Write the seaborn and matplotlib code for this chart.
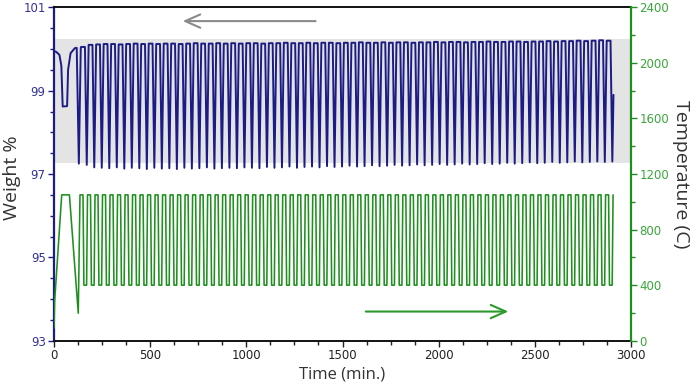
import numpy as np
import pandas as pd
import matplotlib
matplotlib.use("Agg")
import matplotlib.pyplot as plt
import seaborn as sns
from matplotlib.ticker import MultipleLocator

# ---- values ----
# temperature program before the cycling starts
start_time = [0, 3, 40, 80, 126, 135]
start_temp = [90, 280, 1050, 1050, 198, 1050]

# weight before the cycling starts (incl. the first dip)
start_wt_time = [0, 12, 28, 38, 45, 68, 73, 86, 108, 118, 129, 139]
start_wt = [99.95, 99.93, 99.86, 99.60, 98.62, 98.63, 99.50, 99.90, 100.02, 100.03, 97.25, 100.03]

first_cycle = 135       # min
cycle_period = 39.04    # min
n_cycles = 71
temp_high = 1050
temp_low = 400

weight_max = [
    100.05, 100.10, 100.11, 100.12, 100.12, 100.11, 100.12, 100.13, 100.12, 100.13,
    100.12, 100.13, 100.13, 100.12, 100.13, 100.14, 100.13, 100.13, 100.14, 100.13,
    100.14, 100.13, 100.14, 100.14, 100.13, 100.14, 100.14, 100.15, 100.14, 100.14,
    100.15, 100.14, 100.15, 100.15, 100.14, 100.15, 100.15, 100.16, 100.15, 100.15,
    100.16, 100.15, 100.16, 100.16, 100.15, 100.16, 100.16, 100.17, 100.16, 100.17,
    100.17, 100.16, 100.17, 100.17, 100.18, 100.17, 100.17, 100.18, 100.18, 100.17,
    100.18, 100.18, 100.19, 100.18, 100.19, 100.19, 100.20, 100.19, 100.20, 100.21,
    100.20]
weight_min = [
    97.22, 97.16, 97.15, 97.14, 97.16, 97.13, 97.15, 97.14, 97.12, 97.15,
    97.13, 97.14, 97.12, 97.15, 97.13, 97.14, 97.16, 97.13, 97.14, 97.15,
    97.14, 97.16, 97.15, 97.14, 97.17, 97.15, 97.16, 97.18, 97.15, 97.17,
    97.18, 97.16, 97.19, 97.17, 97.18, 97.20, 97.18, 97.19, 97.21, 97.19,
    97.20, 97.22, 97.20, 97.21, 97.23, 97.21, 97.22, 97.24, 97.22, 97.23,
    97.25, 97.23, 97.24, 97.26, 97.24, 97.25, 97.27, 97.25, 97.26, 97.28,
    97.26, 97.27, 97.29, 97.27, 97.28, 97.30, 97.28, 97.29, 97.30, 97.29,
    97.30]
end_wt_time = 2909
end_wt = 98.9

band_low, band_high = 97.26, 100.23
band_time = [0, 2995]

weight_ticks = [93, 95, 97, 99, 101]
temp_ticks = [0, 400, 800, 1200, 1600, 2000, 2400]
time_ticks = [0, 500, 1000, 1500, 2000, 2500, 3000]

BLUE = "#1c1c86"
GREEN = "#1f901f"
BLUE_TXT = "#33339a"
GREEN_TXT = "#3aa63a"

# ---- build the traces ----
t_time, t_val = list(start_time), list(start_temp)
w_time, w_val = list(start_wt_time), list(start_wt)
P = cycle_period
for k in range(n_cycles):
    t0 = first_cycle + k * P
    t_time += [t0 + 0.40 * P, t0 + 0.52 * P, t0 + 0.88 * P, t0 + P]
    t_val += [temp_high, temp_low, temp_low, temp_high]
    w_time += [t0 + 0.15 * P, t0 + 0.66 * P, t0 + 0.90 * P]
    w_val += [weight_max[k], weight_max[k], weight_min[k]]
w_time.append(end_wt_time)
w_val.append(end_wt)

temp_df = pd.DataFrame({"time": t_time, "temp": t_val})
wt_df = pd.DataFrame({"time": w_time, "weight": w_val})

# ---- plot ----
sns.set_theme(style="white")
plt.rcParams["font.family"] = ["DejaVu Sans"]

fig = plt.figure(figsize=(6.99, 3.87), dpi=100)
fig.subplots_adjust(left=0.0773, right=0.9027, top=0.981, bottom=0.1196)
ax = fig.add_subplot(111)
ax2 = ax.twinx()

ax.fill_between(band_time, band_low, band_high, color="#e4e4e4", lw=0, zorder=0)
sns.lineplot(data=wt_df, x="time", y="weight", ax=ax, sort=False, estimator=None,
             color=BLUE, lw=1.4, zorder=2)
sns.lineplot(data=temp_df, x="time", y="temp", ax=ax2, sort=False, estimator=None,
             color=GREEN, lw=1.15)

ax.set_xlim(0, 3000)
ax.set_ylim(93, 101)
ax2.set_ylim(0, 2400)

# arrows
ax.annotate("", xy=(669, 100.67), xytext=(1360, 100.67),
            arrowprops=dict(arrowstyle="->,head_length=0.9,head_width=0.4",
                            color="#8a8a8a", lw=1.5, shrinkA=0, shrinkB=0))
ax.annotate("", xy=(2362, 93.7), xytext=(1621, 93.7),
            arrowprops=dict(arrowstyle="->,head_length=0.9,head_width=0.4",
                            color="#2a9a2a", lw=1.5, shrinkA=0, shrinkB=0))

# ticks
ax.set_xticks(time_ticks)
ax.xaxis.set_minor_locator(MultipleLocator(125))
ax.set_yticks(weight_ticks)
ax.yaxis.set_minor_locator(MultipleLocator(0.5))
ax2.set_yticks(temp_ticks)
ax2.yaxis.set_minor_locator(MultipleLocator(200))

ax.tick_params(axis="x", which="both", direction="out", bottom=True, colors="#222222",
               labelsize=8.5, width=1, pad=2)
ax.tick_params(axis="x", which="major", length=4)
ax.tick_params(axis="x", which="minor", length=3)
ax.tick_params(axis="y", which="both", direction="out", left=True, colors=BLUE,
               labelcolor=BLUE_TXT, labelsize=8.5, width=1, pad=2)
ax.tick_params(axis="y", which="major", length=4)
ax.tick_params(axis="y", which="minor", length=3)
ax2.tick_params(axis="y", which="both", direction="out", right=True, colors=GREEN,
                labelcolor=GREEN_TXT, labelsize=8.5, width=1, pad=2)
ax2.tick_params(axis="y", which="major", length=4)
ax2.tick_params(axis="y", which="minor", length=3)

# spines
for s in ["top", "bottom"]:
    ax.spines[s].set_color("#111111")
    ax.spines[s].set_linewidth(1.4)
ax.spines["left"].set_color(BLUE)
ax.spines["left"].set_linewidth(1.6)
ax.spines["right"].set_visible(False)
for s in ["top", "bottom", "left"]:
    ax2.spines[s].set_visible(False)
ax2.spines["right"].set_color(GREEN)
ax2.spines["right"].set_linewidth(1.6)

fam = ["Open Sans", "DejaVu Sans"]
ax.set_xlabel("Time (min.)", labelpad=3, family=fam, fontsize=12, color="#333333")
ax.set_ylabel("Weight %", family=fam, fontsize=14, color="#333333")
ax.yaxis.set_label_coords(-0.058, 0.49)
ax2.set_ylabel("Temperature (C)", rotation=270, labelpad=15, family=fam,
               fontsize=14, color="#333333")

fig.savefig("out.png", dpi=100)
